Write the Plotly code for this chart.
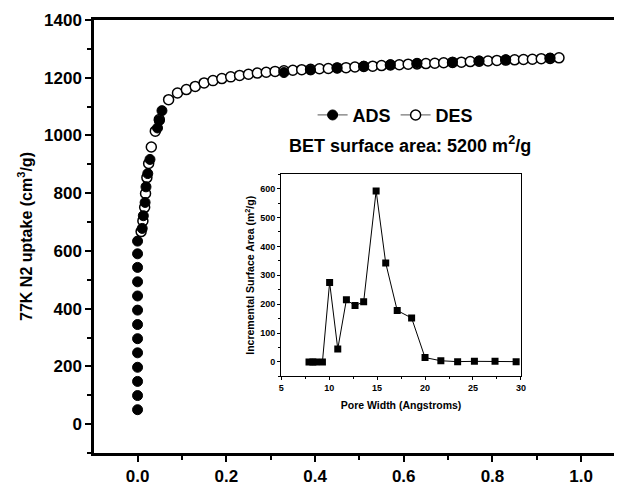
import plotly.graph_objects as go

# ---- main isotherm data (P/P0 vs uptake) ----
ads_x = [0.0, 0.0, 0.0, 0.0, 0.0, 0.0, 0.0, 0.0, 0.0, 0.0, 0.0, 0.0, 0.0,
         0.0105, 0.013, 0.017, 0.019, 0.023, 0.028, 0.045, 0.049, 0.055,
         0.33, 0.39, 0.45, 0.51, 0.57, 0.63, 0.71, 0.77, 0.83, 0.93]
ads_y = [50, 99, 148, 197, 247, 296, 345, 395, 444, 493, 543, 590, 634,
         678, 722, 768, 822, 868, 917, 1026, 1052, 1086,
         1218, 1227, 1234, 1240, 1245, 1250, 1254, 1258, 1262, 1268]

des_x = [0.008, 0.012, 0.016, 0.018, 0.021, 0.025, 0.031, 0.040, 0.049, 0.070,
         0.090, 0.110, 0.130, 0.150, 0.170, 0.190, 0.210, 0.230, 0.250, 0.270,
         0.290, 0.310, 0.330, 0.350, 0.370, 0.390, 0.410, 0.430, 0.450, 0.470,
         0.490, 0.510, 0.530, 0.550, 0.570, 0.590, 0.610, 0.630, 0.650, 0.670,
         0.690, 0.710, 0.730, 0.750, 0.770, 0.790, 0.810, 0.830, 0.850, 0.870,
         0.890, 0.910, 0.930, 0.950]
des_y = [667, 704, 751, 799, 854, 903, 960, 1015, 1055, 1124,
         1147, 1159, 1170, 1182, 1190, 1197, 1203, 1208, 1212, 1216,
         1219, 1222, 1224, 1226, 1228, 1229, 1231, 1232, 1234, 1235,
         1237, 1239, 1240, 1242, 1244, 1245, 1247, 1248, 1249, 1250,
         1252, 1253, 1254, 1256, 1257, 1258, 1260, 1261, 1262, 1263,
         1264, 1266, 1267, 1269]

# ---- inset pore size distribution ----
pore_x = [7.9, 8.3, 8.6, 9.3, 10.05, 10.9, 11.8, 12.7, 13.6, 14.9, 15.9,
          17.1, 18.6, 20.0, 21.65, 23.4, 25.15, 27.3, 29.5]
pore_y = [0, 0, 0, 0, 275, 45, 215, 195, 208, 592, 342,
          178, 152, 15, 4, 1, 2, 2, 1]

FONT = "Liberation Sans"
fig = go.Figure()

# legend-only entries (line + marker symbol)
fig.add_trace(go.Scatter(x=[None], y=[None], mode="lines+markers", name="ADS",
                         line=dict(color="#777777", width=1.2),
                         marker=dict(symbol="circle", size=10, color="black",
                                     line=dict(color="black", width=1))))
fig.add_trace(go.Scatter(x=[None], y=[None], mode="lines+markers", name="DES",
                         line=dict(color="#777777", width=1.2),
                         marker=dict(symbol="circle", size=10, color="white",
                                     line=dict(color="black", width=1.5))))

fig.add_trace(go.Scatter(x=des_x, y=des_y, mode="markers", showlegend=False,
                         marker=dict(symbol="circle", size=10, color="white",
                                     line=dict(color="black", width=1.5))))
fig.add_trace(go.Scatter(x=ads_x, y=ads_y, mode="markers", showlegend=False,
                         marker=dict(symbol="circle", size=10, color="black",
                                     line=dict(color="black", width=1))))

fig.add_trace(go.Scatter(x=pore_x, y=pore_y, mode="lines+markers", showlegend=False,
                         xaxis="x2", yaxis="y2",
                         line=dict(color="black", width=1),
                         marker=dict(symbol="square", size=7, color="black")))

fig.update_layout(
    width=619, height=486,
    margin=dict(l=94, r=0, t=20, b=31),
    paper_bgcolor="white", plot_bgcolor="white",
    font=dict(family=FONT, color="black"),
    xaxis=dict(range=[-0.0982, 1.074], tick0=0, dtick=0.2, showline=True,
               linecolor="black", linewidth=2.5, mirror=True, ticks="outside",
               ticklen=6, tickwidth=2, tickcolor="black", showgrid=False,
               zeroline=False, tickformat=".1f",
               tickfont=dict(size=17, weight="bold", family=FONT),
               minor=dict(dtick=0.1, ticks="outside", ticklen=4, tickwidth=2,
                          tickcolor="black")),
    yaxis=dict(range=[-100, 1400], tick0=0, dtick=200, showline=True,
               linecolor="black", linewidth=2.5, ticks="outside",
               ticklen=6, tickwidth=2, tickcolor="black", showgrid=False,
               zeroline=False,
               tickfont=dict(size=17, weight="bold", family=FONT),
               title=dict(text="77K N2 uptake (cm<sup>3</sup>/g)", standoff=8,
                          font=dict(size=16, weight="bold", family=FONT)),
               minor=dict(dtick=100, ticks="outside", ticklen=4, tickwidth=2,
                          tickcolor="black")),
    xaxis2=dict(domain=[0.36, 0.821], anchor="y2", range=[5, 30], dtick=5,
                showline=True, linecolor="black", linewidth=1.2, mirror=True,
                ticks="outside", ticklen=3, tickwidth=1, tickcolor="black",
                showgrid=False, zeroline=False,
                tickfont=dict(size=9, weight="bold", family=FONT),
                title=dict(text="Pore Width (Angstroms)", standoff=9,
                           font=dict(size=10.5, weight="bold", family=FONT)),
                minor=dict(dtick=2.5, ticks="outside", ticklen=2, tickwidth=1,
                           tickcolor="black")),
    yaxis2=dict(domain=[0.177, 0.644], anchor="x2", range=[-50, 650], dtick=100,
                showline=True, linecolor="black", linewidth=1.2, mirror=True,
                ticks="outside", ticklen=3, tickwidth=1, tickcolor="black",
                showgrid=False, zeroline=False,
                tickfont=dict(size=9, weight="bold", family=FONT),
                title=dict(text="Incremental Surface Area (m<sup>2</sup>/g)", standoff=3,
                           font=dict(size=10.5, weight="bold", family=FONT)),
                minor=dict(dtick=50, ticks="outside", ticklen=2, tickwidth=1,
                           tickcolor="black")),
    showlegend=True,
    legend=dict(orientation="h", x=0.58, y=0.78, xanchor="center", yanchor="middle",
                bgcolor="rgba(0,0,0,0)", font=dict(size=18, weight="bold", family=FONT),
                itemwidth=30, tracegroupgap=0),
    annotations=[dict(text="BET surface area: 5200 m<sup>2</sup>/g", x=0.608, y=0.713,
                      xref="paper", yref="paper", showarrow=False,
                      xanchor="center", yanchor="middle",
                      font=dict(size=18, weight="bold", family=FONT))],
)

fig.write_html("out.html")
